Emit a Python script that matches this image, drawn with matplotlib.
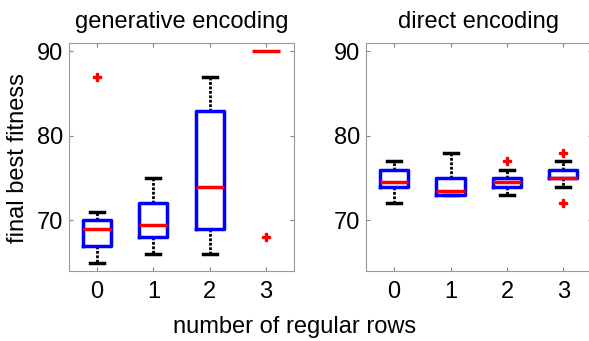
import matplotlib.pyplot as plt

plt.rcParams['font.family'] = ['Liberation Sans', 'DejaVu Sans']

# number of regular rows
groups = [0, 1, 2, 3]

# generative encoding: whisker low, q1, median, q3, whisker high, outliers
gen_low = [65, 66, 66, 90]
gen_q1 = [67, 68, 69, 90]
gen_med = [69, 69.5, 74, 90]
gen_q3 = [70, 72, 83, 90]
gen_high = [71, 75, 87, 90]
gen_fliers = [[87], [], [], [68]]

# direct encoding
dir_low = [72, 73, 73, 74]
dir_q1 = [74, 73, 74, 75]
dir_med = [74.5, 73.5, 74.5, 75]
dir_q3 = [76, 75, 75, 76]
dir_high = [77, 78, 76, 77]
dir_fliers = [[], [], [77], [78, 72]]


def make_stats(low, q1, med, q3, high, fliers):
    stats = []
    for i in range(len(groups)):
        stats.append(dict(whislo=low[i], q1=q1[i], med=med[i], q3=q3[i],
                          whishi=high[i], fliers=fliers[i], label=str(groups[i])))
    return stats


def draw_panel(ax, stats, title):
    parts = ax.bxp(stats, positions=groups, widths=0.5, capwidths=0.25,
                   boxprops=dict(color='#0000ff', linewidth=2.5, zorder=2.5),
                   medianprops=dict(color='#ff0000', linewidth=2.5, zorder=3),
                   whiskerprops=dict(color='black', linewidth=2, linestyle=(0, (1, 0.6))),
                   capprops=dict(color='black', linewidth=2.5),
                   flierprops=dict(marker='P', markerfacecolor='#ff0000',
                                   markeredgecolor='#ff0000', markersize=6))
    # a collapsed box shows only its median line
    for i, st in enumerate(stats):
        if st['q1'] == st['q3'] == st['whislo'] == st['whishi']:
            parts['boxes'][i].set_visible(False)
            for ln in parts['caps'][2 * i:2 * i + 2] + parts['whiskers'][2 * i:2 * i + 2]:
                ln.set_visible(False)
    ax.set_xlim(-0.5, 3.5)
    ax.set_ylim(64, 91)
    ax.set_yticks([70, 80, 90])
    ax.set_xticks(groups)
    ax.set_xticklabels([str(g) for g in groups])
    ax.tick_params(direction='in', top=True, right=True, labelsize=17,
                   color='#888888', length=3)
    ax.tick_params(axis='x', pad=7)
    ax.tick_params(axis='y', pad=4)
    for s in ax.spines.values():
        s.set_color('#999999')
    ax.set_title(title, fontsize=17, pad=11)


fig = plt.figure(figsize=(5.89, 3.41), dpi=100)
ax1 = fig.add_axes([69 / 589, 1 - 271 / 341, 225 / 589, 228 / 341])
ax2 = fig.add_axes([366 / 589, 1 - 271 / 341, 225.5 / 589, 228 / 341])

draw_panel(ax1, make_stats(gen_low, gen_q1, gen_med, gen_q3, gen_high, gen_fliers),
           'generative encoding')
draw_panel(ax2, make_stats(dir_low, dir_q1, dir_med, dir_q3, dir_high, dir_fliers),
           'direct encoding')

fig.text(18 / 589, 1 - 158 / 341, 'final best fitness', rotation=90,
         ha='center', va='center', fontsize=17)
fig.text(0.5, 1 - 327 / 341, 'number of regular rows', ha='center', va='center',
         fontsize=17)

fig.savefig('out.png', dpi=100)
